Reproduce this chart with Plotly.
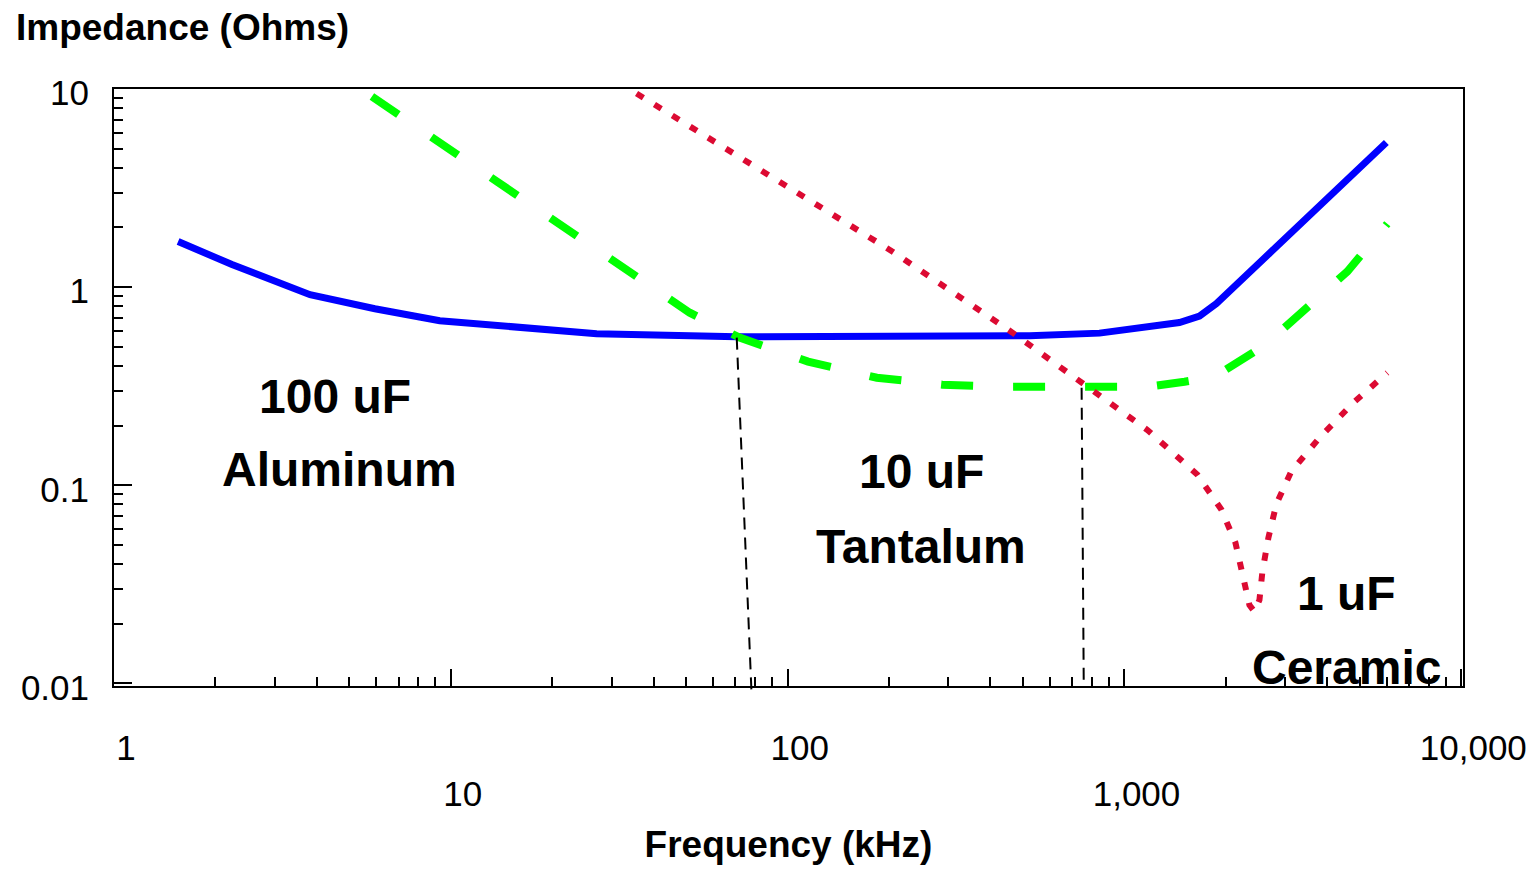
import math
import plotly.graph_objects as go

# ---------------- data ----------------
alu_freq = [1.55, 2.24, 3.82, 5.95, 9.27, 16.0, 27.1, 70.6, 359, 523, 843, 1270, 1456, 1670, 1875, 5990]
alu_z = [1.70, 1.30, 0.916, 0.778, 0.677, 0.624, 0.582, 0.562, 0.562, 0.569, 0.586, 0.640, 0.663, 0.714, 0.826, 5.37]

tan_freq = [5.83, 36.9, 51.2, 72.0, 115, 184, 288, 456, 726, 1162, 1507, 1849, 2431, 2985, 4590, 6030]
tan_z = [9.17, 1.07, 0.743, 0.556, 0.421, 0.349, 0.322, 0.314, 0.311, 0.314, 0.333, 0.353, 0.472, 0.624, 1.20, 2.09]

cer_freq = [35.6, 205, 465, 735, 1170, 1647, 1941, 2135, 2239, 2349, 2431, 2516, 2567, 2674, 2826, 3132, 3818, 4783, 6030]
cer_z = [9.49, 1.51, 0.589, 0.337, 0.190, 0.113, 0.0752, 0.0513, 0.0345, 0.0249, 0.0230, 0.0264, 0.0366, 0.0543, 0.0807, 0.118, 0.176, 0.261, 0.370]

# crossover marker lines (freq, impedance) start -> end
marker1_freq = [70.6, 78.2]
marker1_z = [0.556, 0.00855]
marker2_freq = [746, 757]
marker2_z = [0.311, 0.0097]

x_tickvals = [1, 10, 100, 1000, 10000]
x_ticktext = ["1", "<br>10", "100", "<br>1,000", "10,000"]
y_tickvals = [0.01, 0.1, 1, 10]
y_ticktext = ["0.01", "0.1", "1", "10"]

labels = [
    ("100 uF", 4.52, 0.280),
    ("Aluminum", 4.68, 0.1197),
    ("10 uF", 249, 0.117),
    ("Tantalum", 249, 0.0489),
    ("1 uF", 4560, 0.0286),
    ("Ceramic", 4560, 0.0121),
]

FONT = "Liberation Sans, Arial, sans-serif"
X_RANGE = [0, 4.005]
Y_RANGE = [-2.013, 1.0]

fig = go.Figure()
fig.add_trace(go.Scatter(x=alu_freq, y=alu_z, mode="lines", name="100 uF Aluminum",
                         line=dict(color="#0000FF", width=7)))
fig.add_trace(go.Scatter(x=tan_freq, y=tan_z, mode="lines", name="10 uF Tantalum",
                         line=dict(color="#00FF00", width=8, dash="32px,40px")))
fig.add_trace(go.Scatter(x=cer_freq, y=cer_z, mode="lines", name="1 uF Ceramic",
                         line=dict(color="rgb(220,10,50)", width=6, dash="8px,13px")))


def ypaper(v):
    return (math.log10(v) - Y_RANGE[0]) / (Y_RANGE[1] - Y_RANGE[0])


for fx, fz in ((marker1_freq, marker1_z), (marker2_freq, marker2_z)):
    fig.add_shape(type="line", xref="x", yref="paper",
                  x0=fx[0], x1=fx[1], y0=ypaper(fz[0]), y1=ypaper(fz[1]),
                  line=dict(color="black", width=2, dash="12px,8px"), layer="above")

for text, fx, fz in labels:
    fig.add_annotation(x=math.log10(fx), y=math.log10(fz), xref="x", yref="y", text=f"<b>{text}</b>",
                       showarrow=False, font=dict(family=FONT, size=48, color="black"),
                       xanchor="center", yanchor="middle")

fig.update_layout(
    width=1539, height=871,
    margin=dict(l=114, r=74, t=89, b=185),
    paper_bgcolor="white", plot_bgcolor="white",
    showlegend=False,
    font=dict(family=FONT, color="black"),
    title=dict(text="<b>Impedance (Ohms)</b>", x=16 / 1539, xanchor="left", xref="container",
               y=1 - 27 / 871, yanchor="middle", yref="container",
               font=dict(family=FONT, size=37, color="black")),
)

fig.update_xaxes(
    type="log", range=X_RANGE, showgrid=False, zeroline=False,
    showline=True, linecolor="black", linewidth=2, mirror=True,
    tickmode="array", tickvals=x_tickvals, ticktext=x_ticktext,
    ticks="inside", ticklen=17, tickwidth=1.5, tickcolor="black",
    tickfont=dict(family=FONT, size=35, color="black"),
    ticklabelstandoff=30, ticklabelshift=12,
    minor=dict(ticks="inside", ticklen=9, tickwidth=1.5, tickcolor="black", dtick="D1", showgrid=False),
    title=dict(text="<b>Frequency (kHz)</b>", font=dict(family=FONT, size=37, color="black"), standoff=20),
)
fig.update_yaxes(
    type="log", range=Y_RANGE, showgrid=False, zeroline=False,
    showline=True, linecolor="black", linewidth=2, mirror=True,
    tickmode="array", tickvals=y_tickvals, ticktext=y_ticktext,
    ticks="inside", ticklen=18, tickwidth=1.5, tickcolor="black",
    tickfont=dict(family=FONT, size=35, color="black"),
    ticklabelstandoff=16, ticklabelshift=4,
    minor=dict(ticks="inside", ticklen=9, tickwidth=1.5, tickcolor="black", dtick="D1", showgrid=False),
)

fig.write_html("out.html")
